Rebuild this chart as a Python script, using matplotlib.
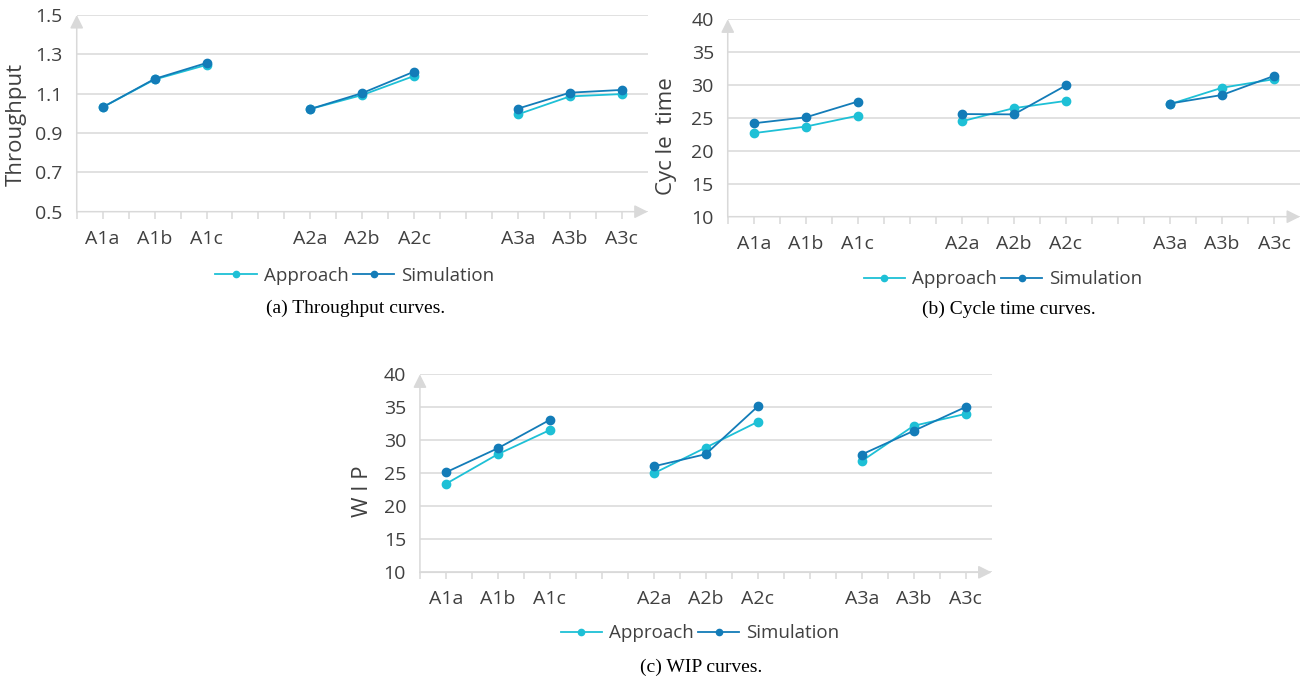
import numpy as np
import matplotlib
matplotlib.use('Agg')
import matplotlib.pyplot as plt
from matplotlib.lines import Line2D

# data
labels = ['A1a', 'A1b', 'A1c', 'A2a', 'A2b', 'A2c', 'A3a', 'A3b', 'A3c']
positions = [0, 1, 2, 4, 5, 6, 8, 9, 10]
groups = [(0, 3), (3, 6), (6, 9)]

thr_approach = [1.031, 1.172, 1.246, 1.022, 1.093, 1.190, 0.995, 1.086, 1.098]
thr_simulation = [1.031, 1.175, 1.256, 1.022, 1.103, 1.212, 1.024, 1.105, 1.119]

ct_approach = [22.7, 23.7, 25.35, 24.5, 26.5, 27.6, 27.1, 29.6, 30.9]
ct_simulation = [24.2, 25.1, 27.5, 25.6, 25.55, 29.95, 27.2, 28.5, 31.4]

wip_approach = [23.4, 27.9, 31.56, 25.0, 28.9, 32.8, 26.85, 32.2, 34.0]
wip_simulation = [25.15, 28.8, 33.1, 26.06, 27.9, 35.13, 27.85, 31.43, 35.05]

C_APP = '#1EC0D6'
C_SIM = '#137CB8'
GRID = '#D9D9D9'
TXT = '#404040'
SANS = ['Open Sans', 'DejaVu Sans']

plt.rcParams['font.family'] = SANS

fig = plt.figure(figsize=(13.07, 6.78), dpi=100)


def panel(rect, app, sim, ylim, yticks, fmt, ylabel, ylab_xy, leg_xy, caption, cap_xy):
    ax = fig.add_axes(rect)
    for a, b in groups:
        ax.plot(positions[a:b], app[a:b], color=C_APP, lw=1.3, marker='o', ms=6, zorder=3)
        ax.plot(positions[a:b], sim[a:b], color=C_SIM, lw=1.3, marker='o', ms=6, zorder=4)
    ax.set_xlim(-0.5, 10.5)
    ax.set_ylim(*ylim)
    ax.set_yticks(yticks)
    ax.set_yticklabels([fmt % t for t in yticks])
    ax.set_xticks(positions)
    ax.set_xticklabels(labels)
    ax.set_xticks(np.arange(-0.5, 10.25, 0.5), minor=True)
    ax.tick_params(axis='x', which='both', length=5, width=1.1, color=GRID,
                   labelsize=14, labelcolor=TXT, pad=8)
    ax.tick_params(axis='y', length=0, labelsize=14, labelcolor=TXT, pad=10)
    ax.grid(axis='y', color=GRID, lw=1.1)
    ax.set_axisbelow(True)
    for s in ax.spines.values():
        s.set_visible(False)
    # axis lines with arrow heads
    arrow = dict(arrowstyle='-|>,head_length=0.8,head_width=0.4', color=GRID,
                 lw=1.1, shrinkA=0, shrinkB=0, mutation_scale=10)
    ax.annotate('', xy=(0, 1), xytext=(0, 0), xycoords='axes fraction',
                arrowprops=arrow, annotation_clip=False)
    ax.annotate('', xy=(1, 0), xytext=(0, 0), xycoords='axes fraction',
                arrowprops=arrow, annotation_clip=False)
    ax.set_ylabel(ylabel, fontsize=16, color=TXT)
    ax.yaxis.set_label_coords(*ylab_xy)
    handles = [Line2D([], [], color=C_APP, lw=1.3, marker='o', ms=4.5),
               Line2D([], [], color=C_SIM, lw=1.3, marker='o', ms=4.5)]
    leg = ax.legend(handles, ['Approach', 'Simulation'], loc='center',
                    bbox_to_anchor=leg_xy, ncol=2, frameon=False, fontsize=13.5,
                    handlelength=2.2, handletextpad=0.37, columnspacing=0.25,
                    numpoints=1)
    for t in leg.get_texts():
        t.set_color(TXT)
    fig.text(cap_xy[0], cap_xy[1], caption, ha='center', va='center',
             fontsize=14, family='Liberation Serif', color='black')
    return ax


panel([0.0587, 0.6878, 0.4369, 0.2901], thr_approach, thr_simulation,
      (0.5, 1.5), [0.5, 0.7, 0.9, 1.1, 1.3, 1.5], '%.1f', 'Throughput',
      (-0.087, 0.446), (0.487, -0.327), '(a) Throughput curves.',
      (356 / 1307, 1 - 308 / 678))

panel([0.5568, 0.6804, 0.4379, 0.2911], ct_approach, ct_simulation,
      (10, 40), [10, 15, 20, 25, 30, 35, 40], '%d', 'Cyc le  time',
      (-0.089, 0.406), (0.481, -0.318), '(b) Cycle time curves.',
      (1009 / 1307, 1 - 309 / 678))

panel([0.3213, 0.1559, 0.4374, 0.2920], wip_approach, wip_simulation,
      (10, 40), [10, 15, 20, 25, 30, 35, 40], '%d', 'W I P',
      (-0.082, 0.408), (0.49, -0.309), '(c) WIP curves.',
      (701 / 1307, 1 - 667 / 678))

fig.savefig('out.png', dpi=100)
